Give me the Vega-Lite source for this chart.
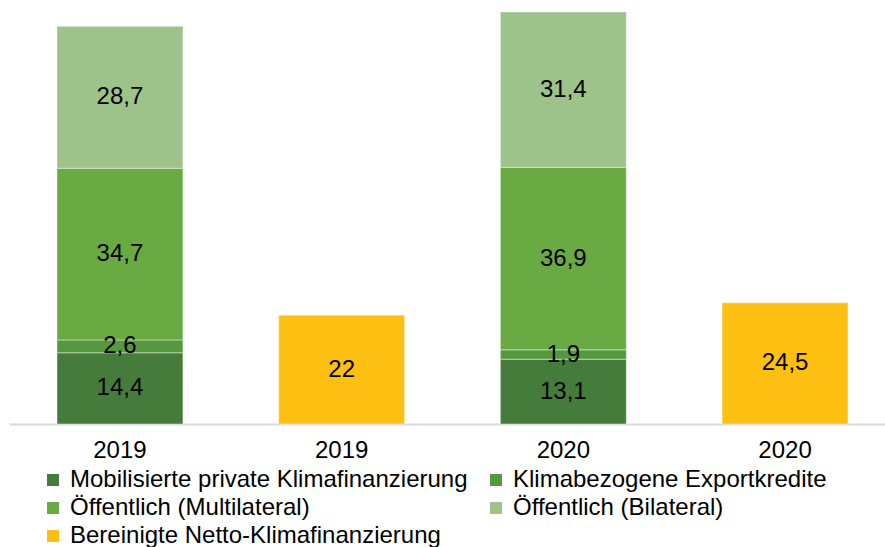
{
  "$schema": "https://vega.github.io/schema/vega-lite/v6.json",
  "autosize": {"type": "none"},
  "padding": {"left": 9, "top": 0, "right": 0, "bottom": 123},
  "width": 887,
  "height": 424,
  "config": {
    "view": {"stroke": null},
    "font": "Liberation Sans",
    "locale": {"number": {"decimal": ",", "thousands": ".", "grouping": [3], "currency": ["", " €"]}}
  },
  "data": {
    "values": [
      {"bar": "A", "year": "2019", "series": "Mobilisierte private Klimafinanzierung", "value": 14.4},
      {"bar": "A", "year": "2019", "series": "Klimabezogene Exportkredite", "value": 2.6},
      {"bar": "A", "year": "2019", "series": "Öffentlich (Multilateral)", "value": 34.7},
      {"bar": "A", "year": "2019", "series": "Öffentlich (Bilateral)", "value": 28.7},
      {"bar": "B", "year": "2019", "series": "Bereinigte Netto-Klimafinanzierung", "value": 22},
      {"bar": "C", "year": "2020", "series": "Mobilisierte private Klimafinanzierung", "value": 13.1},
      {"bar": "C", "year": "2020", "series": "Klimabezogene Exportkredite", "value": 1.9},
      {"bar": "C", "year": "2020", "series": "Öffentlich (Multilateral)", "value": 36.9},
      {"bar": "C", "year": "2020", "series": "Öffentlich (Bilateral)", "value": 31.4},
      {"bar": "D", "year": "2020", "series": "Bereinigte Netto-Klimafinanzierung", "value": 24.5}
    ]
  },
  "transform": [
    {"calculate": "indexof(['Mobilisierte private Klimafinanzierung','Klimabezogene Exportkredite','Öffentlich (Multilateral)','Öffentlich (Bilateral)','Bereinigte Netto-Klimafinanzierung'], datum.series)", "as": "ord"},
    {"stack": "value", "groupby": ["bar"], "sort": [{"field": "ord", "order": "ascending"}], "as": ["y0", "y1"]},
    {"calculate": "(datum.y0 + datum.y1) / 2", "as": "mid"}
  ],
  "encoding": {
    "x": {
      "field": "bar",
      "type": "nominal",
      "sort": ["A", "B", "C", "D"],
      "scale": {"paddingInner": 0.432, "paddingOuter": 0.2165},
      "axis": {
        "title": null,
        "labelExpr": "datum.value == 'A' || datum.value == 'B' ? '2019' : '2020'",
        "labelAngle": 0,
        "labelFontSize": 24,
        "labelColor": "#000000",
        "labelPadding": 14,
        "ticks": false,
        "domainColor": "#D9D9D9",
        "domainWidth": 2
      }
    }
  },
  "layer": [
    {
      "mark": {"type": "bar", "stroke": "#ffffff", "strokeWidth": 0.7, "strokeOpacity": 0.6},
      "encoding": {
        "y": {"field": "y0", "type": "quantitative", "scale": {"domain": [0, 85.73], "nice": false, "zero": true}, "axis": null},
        "y2": {"field": "y1"},
        "color": {
          "field": "series",
          "type": "nominal",
          "scale": {
            "domain": ["Mobilisierte private Klimafinanzierung", "Klimabezogene Exportkredite", "Öffentlich (Multilateral)", "Öffentlich (Bilateral)", "Bereinigte Netto-Klimafinanzierung"],
            "range": ["#467C3B", "#559840", "#6AAA42", "#9DC28A", "#FCBF12"]
          },
          "legend": {
            "title": null,
            "orient": "none",
            "legendX": 32,
            "legendY": 468,
            "direction": "horizontal",
            "columns": 2,
            "columnPadding": 16,
            "rowPadding": 4,
            "symbolType": "square",
            "symbolSize": 144,
            "symbolStrokeWidth": 0,
            "labelFontSize": 24,
            "labelColor": "#000000",
            "labelOffset": 5,
            "labelLimit": 600
          }
        }
      }
    },
    {
      "mark": {"type": "text", "fontSize": 24, "color": "#000000", "baseline": "middle"},
      "encoding": {
        "y": {"field": "mid", "type": "quantitative"},
        "text": {"field": "value", "type": "quantitative", "format": ".1~f"}
      }
    }
  ]
}
